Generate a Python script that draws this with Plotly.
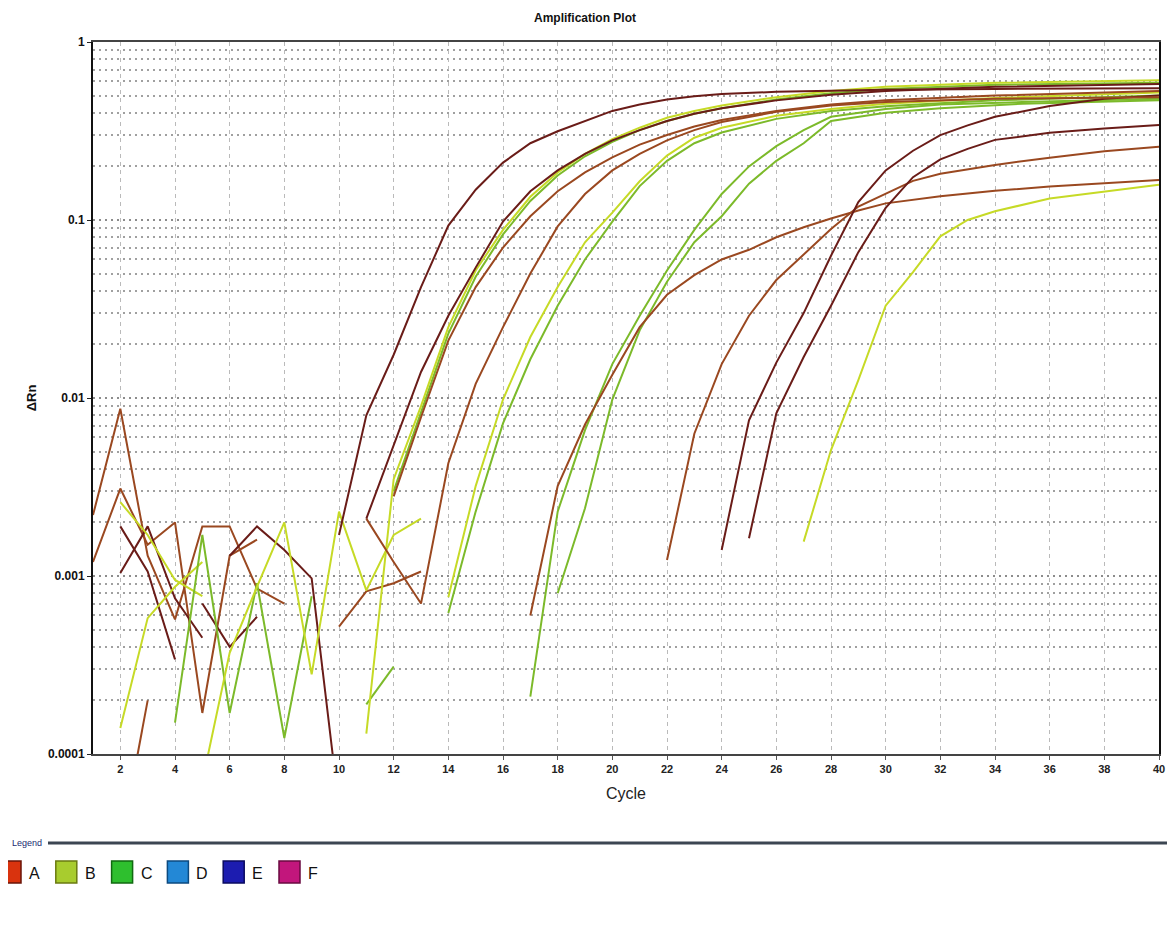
import plotly.graph_objects as go

# ---------------- data ----------------
# amplification curves: cycles and delta-Rn values
cyc_M1 = [10, 11, 12, 13, 14, 15, 16, 17, 18, 19, 20, 21, 22, 23, 24, 26, 28, 30, 34, 40]
rn_M1 = [0.0017, 0.0080, 0.0175, 0.042, 0.093, 0.148, 0.21, 0.27, 0.315, 0.36, 0.41, 0.445, 0.475, 0.495, 0.51, 0.525, 0.535, 0.54, 0.545, 0.55]

cyc_M2 = [11, 12, 13, 14, 15, 16, 17, 18, 19, 20, 21, 22, 23, 24, 26, 28, 30, 34, 40]
rn_M2 = [0.0021, 0.0055, 0.014, 0.029, 0.054, 0.098, 0.145, 0.19, 0.235, 0.28, 0.32, 0.36, 0.395, 0.425, 0.47, 0.505, 0.53, 0.56, 0.58]

cyc_S3 = [12, 13, 14, 15, 16, 17, 18, 19, 20, 21, 22, 23, 24, 26, 28, 30, 34, 40]
rn_S3 = [0.0028, 0.0078, 0.021, 0.042, 0.070, 0.105, 0.145, 0.185, 0.225, 0.265, 0.30, 0.335, 0.365, 0.41, 0.445, 0.47, 0.50, 0.53]

cyc_S4 = [11, 12, 13, 14, 15, 16, 17, 18, 19, 20, 21, 22, 23, 24, 26, 28, 30, 34, 40]
rn_S4 = [0.00013, 0.0035, 0.009, 0.025, 0.052, 0.088, 0.135, 0.185, 0.235, 0.285, 0.33, 0.375, 0.41, 0.44, 0.49, 0.53, 0.56, 0.59, 0.61]

cyc_S4b = [12, 13, 14, 15, 16, 17, 18, 19, 20, 21, 22, 23, 24, 26, 28, 30, 34, 40]
rn_S4b = [0.0030, 0.0082, 0.023, 0.048, 0.083, 0.128, 0.178, 0.228, 0.275, 0.32, 0.36, 0.395, 0.425, 0.475, 0.515, 0.545, 0.575, 0.59]

cyc_S5 = [11, 12, 13, 14, 15, 16, 17, 18, 19, 20, 21, 22, 23, 24, 26, 28, 30, 34, 40]
rn_S5 = [0.0021, 0.0012, 0.0007, 0.0043, 0.012, 0.025, 0.05, 0.092, 0.14, 0.19, 0.235, 0.28, 0.32, 0.355, 0.405, 0.44, 0.46, 0.48, 0.49]

cyc_S6 = [14, 15, 16, 17, 18, 19, 20, 21, 22, 23, 24, 26, 28, 30, 34, 40]
rn_S6 = [0.00076, 0.0032, 0.0098, 0.022, 0.042, 0.075, 0.11, 0.165, 0.23, 0.29, 0.33, 0.385, 0.42, 0.45, 0.485, 0.52]

cyc_S7 = [14, 15, 16, 17, 18, 19, 20, 21, 22, 23, 24, 26, 28, 30, 34, 40]
rn_S7 = [0.00062, 0.0023, 0.0072, 0.0165, 0.033, 0.060, 0.098, 0.155, 0.215, 0.27, 0.31, 0.37, 0.41, 0.435, 0.47, 0.50]

cyc_S8 = [17, 18, 19, 20, 21, 22, 23, 24, 25, 26, 27, 28, 29, 30, 32, 34, 36, 38, 40]
rn_S8 = [0.0006, 0.0032, 0.0071, 0.0135, 0.025, 0.038, 0.049, 0.060, 0.068, 0.080, 0.091, 0.102, 0.113, 0.124, 0.136, 0.146, 0.154, 0.161, 0.168]

cyc_S9 = [17, 18, 19, 20, 21, 22, 23, 24, 25, 26, 27, 28, 30, 32, 35, 40]
rn_S9 = [0.00021, 0.0023, 0.0066, 0.0155, 0.029, 0.052, 0.088, 0.14, 0.20, 0.26, 0.32, 0.38, 0.42, 0.445, 0.46, 0.48]

cyc_S10 = [18, 19, 20, 21, 22, 23, 24, 25, 26, 27, 28, 30, 32, 35, 40]
rn_S10 = [0.0008, 0.0024, 0.0098, 0.024, 0.045, 0.075, 0.105, 0.16, 0.215, 0.27, 0.36, 0.40, 0.425, 0.45, 0.47]

cyc_L1 = [22, 23, 24, 25, 26, 27, 28, 29, 30, 31, 32, 34, 36, 38, 40]
rn_L1 = [0.00123, 0.0063, 0.0155, 0.029, 0.046, 0.064, 0.089, 0.119, 0.141, 0.166, 0.182, 0.204, 0.224, 0.243, 0.258]

cyc_L2 = [24, 25, 26, 27, 28, 29, 30, 31, 32, 33, 34, 36, 38, 40]
rn_L2 = [0.0014, 0.0075, 0.0158, 0.030, 0.063, 0.126, 0.19, 0.245, 0.30, 0.34, 0.38, 0.437, 0.48, 0.50]

cyc_L3 = [25, 26, 27, 28, 29, 30, 31, 32, 33, 34, 36, 38, 40]
rn_L3 = [0.00163, 0.0082, 0.017, 0.033, 0.066, 0.117, 0.174, 0.219, 0.251, 0.282, 0.309, 0.327, 0.342]

cyc_L4 = [27, 28, 29, 30, 31, 32, 33, 34, 36, 38, 40]
rn_L4 = [0.00156, 0.0051, 0.0126, 0.033, 0.051, 0.081, 0.10, 0.112, 0.132, 0.145, 0.158]

# baseline noise segments
cyc_N1 = [1, 2, 3, 4, 5, 6, 7, 8]
rn_N1 = [0.0022, 0.0087, 0.0013, 0.00057, 0.0019, 0.0019, 0.00085, 0.0007]
cyc_N2 = [1, 2, 3, 4, 5, 6, 7]
rn_N2 = [0.0012, 0.0031, 0.0015, 0.0020, 0.00017, 0.0013, 0.0016]
cyc_N3 = [2, 3, 4]
rn_N3 = [0.0019, 0.00106, 0.00034]
cyc_N4 = [2, 3, 4, 5]
rn_N4 = [0.00104, 0.0019, 0.00075, 0.00045]
cyc_N5 = [5, 6, 7]
rn_N5 = [0.0007, 0.0004, 0.00059]
cyc_N6 = [6, 7, 8, 9, 10]
rn_N6 = [0.0013, 0.0019, 0.0014, 0.00097, 0.00005]
cyc_N8 = [10, 11, 12, 13]
rn_N8 = [0.00052, 0.00082, 0.00091, 0.00106]
cyc_N9 = [2, 3]
rn_N9 = [0.00003, 0.0002]
cyc_Y1 = [2, 3, 4, 5]
rn_Y1 = [0.0026, 0.0017, 0.00095, 0.00077]
cyc_Y2 = [2, 3, 4, 5]
rn_Y2 = [0.00014, 0.00058, 0.00087, 0.0012]
cyc_G1 = [4, 5, 6, 7, 8, 9]
rn_G1 = [0.00015, 0.0017, 0.00017, 0.00091, 0.000123, 0.00077]
cyc_Y3 = [5, 6, 7, 8, 9, 10, 11, 12, 13]
rn_Y3 = [0.00007, 0.00037, 0.00087, 0.002, 0.00028, 0.0023, 0.00083, 0.0017, 0.0021]
cyc_G2 = [11, 12]
rn_G2 = [0.00019, 0.00031]

# axis ticks
x_ticks = list(range(2, 41, 2))
y_tickvals = [0.0001, 0.001, 0.01, 0.1, 1]
y_ticktext = ["0.0001", "0.001", "0.01", "0.1", "1"]

# legend entries
legend_labels = ["A", "B", "C", "D", "E", "F"]
legend_colors = ["#d9330e", "#a8cc2e", "#2ebf2e", "#2388d6", "#1c1cb0", "#c2167c"]
legend_borders = ["#6a1508", "#6a7a10", "#106a10", "#0c4a80", "#0a0a60", "#6a0a40"]

# ---------------- styling ----------------
MAROON = "#6a1c18"
BROWN = "#9a4820"
YELLOW = "#c6da26"
GREEN = "#7cba2a"

series = [
    (cyc_N1, rn_N1, BROWN), (cyc_N2, rn_N2, BROWN), (cyc_N3, rn_N3, MAROON),
    (cyc_N4, rn_N4, MAROON), (cyc_N5, rn_N5, MAROON), (cyc_N6, rn_N6, MAROON),
    (cyc_N8, rn_N8, BROWN), (cyc_N9, rn_N9, BROWN), (cyc_Y1, rn_Y1, YELLOW),
    (cyc_Y2, rn_Y2, YELLOW), (cyc_G1, rn_G1, GREEN), (cyc_Y3, rn_Y3, YELLOW),
    (cyc_G2, rn_G2, GREEN),
    (cyc_L4, rn_L4, YELLOW), (cyc_S10, rn_S10, GREEN), (cyc_S9, rn_S9, GREEN),
    (cyc_S7, rn_S7, GREEN), (cyc_S6, rn_S6, YELLOW), (cyc_S4b, rn_S4b, GREEN),
    (cyc_S4, rn_S4, YELLOW), (cyc_S8, rn_S8, BROWN), (cyc_L1, rn_L1, BROWN),
    (cyc_L3, rn_L3, MAROON), (cyc_L2, rn_L2, MAROON), (cyc_S5, rn_S5, BROWN),
    (cyc_S3, rn_S3, BROWN), (cyc_M2, rn_M2, MAROON), (cyc_M1, rn_M1, MAROON),
]

fig = go.Figure()
for xs, ys, col in series:
    fig.add_trace(go.Scatter(x=xs, y=ys, mode="lines",
                             line=dict(color=col, width=2), showlegend=False,
                             hoverinfo="skip"))

FONT = "Liberation Sans, Arial, sans-serif"

# the page adds an 8px body margin; the figure is sized to fit the visible window
FIG_W, FIG_H = 1159, 920
fig.update_layout(
    width=FIG_W, height=FIG_H,
    margin=dict(l=85, r=8, t=34, b=174),
    paper_bgcolor="white", plot_bgcolor="white",
    showlegend=False,
    title=dict(text="<b>Amplification Plot</b>", x=(585 - 8) / FIG_W, xanchor="center",
               y=1 - 10 / FIG_H, yanchor="middle",
               font=dict(family=FONT, size=12, color="#111")),
)

fig.update_xaxes(
    range=[1, 40], tickvals=x_ticks, ticks="outside", ticklen=4, tickcolor="#555",
    tickfont=dict(family=FONT, size=11, color="#222", weight="bold"),
    showgrid=True, gridcolor="#bababa", griddash="4px,4px", gridwidth=1,
    showline=True, linecolor="#444", linewidth=2, mirror=True,
    zeroline=False, automargin=False,
    title=dict(text="Cycle", font=dict(family=FONT, size=16, color="#222"), standoff=14),
)

fig.update_yaxes(
    type="log", range=[-4, 0], tickvals=y_tickvals, ticktext=y_ticktext,
    ticks="outside", ticklen=4, tickcolor="#222",
    tickfont=dict(family=FONT, size=12, color="#111", weight="bold"),
    showgrid=True, gridcolor="#8c8c8c", griddash="2px,4px", gridwidth=2,
    minor=dict(dtick="D1", showgrid=True, gridcolor="#a0a0a0", griddash="2px,4px", gridwidth=1.5, ticks=""),
    showline=True, linecolor="#111", linewidth=2, mirror=True,
    zeroline=False, automargin=False,
    title=dict(text="<b>ΔRn</b>", font=dict(family=FONT, size=13, color="#111"), standoff=8),
)

# ---------------- legend panel below the plot ----------------
# positions in page pixels, converted to paper fractions of the plot area
left, bottom, top = 93, 754, 42
plot_w = FIG_W - 85 - 8
plot_h = bottom - top

def px_x(p):
    return (p - left) / plot_w

def px_y(p):
    return (bottom - p) / plot_h

shapes = [dict(type="line", xref="paper", yref="paper",
               x0=px_x(48), x1=px_x(1175), y0=px_y(843), y1=px_y(843),
               line=dict(color="#3c4652", width=3))]
annots = [dict(text="Legend", xref="paper", yref="paper", x=px_x(10), y=px_y(843),
               xanchor="left", yanchor="middle", showarrow=False,
               font=dict(family=FONT, size=9, color="#1a2a70"))]
step = 55.8
for i, (lab, col, bcol) in enumerate(zip(legend_labels, legend_colors, legend_borders)):
    x0 = i * step
    shapes.append(dict(type="rect", xref="paper", yref="paper",
                       x0=px_x(x0), x1=px_x(x0 + 21), y0=px_y(883), y1=px_y(861),
                       fillcolor=col, line=dict(color=bcol, width=1.5)))
    annots.append(dict(text=lab, xref="paper", yref="paper", x=px_x(x0 + 27), y=px_y(873),
                       xanchor="left", yanchor="middle", showarrow=False,
                       font=dict(family=FONT, size=16, color="#111")))

fig.update_layout(shapes=shapes, annotations=annots)

fig.write_html("out.html")
